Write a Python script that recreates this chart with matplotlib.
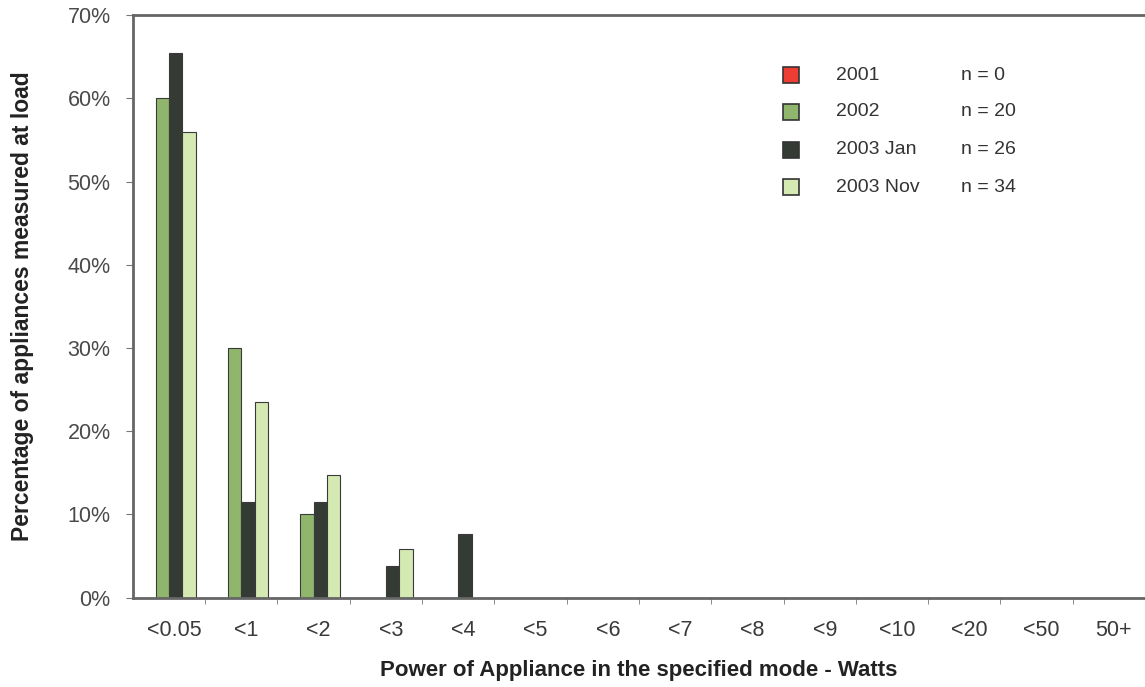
import matplotlib.pyplot as plt
from matplotlib.patches import Rectangle
import numpy as np

plt.rcParams['font.family'] = ['Liberation Sans', 'DejaVu Sans']

categories = ["<0.05", "<1", "<2", "<3", "<4", "<5", "<6", "<7", "<8", "<9",
              "<10", "<20", "<50", "50+"]
series = ["2001", "2002", "2003 Jan", "2003 Nov"]
n_values = ["n = 0", "n = 20", "n = 26", "n = 34"]
colors = ["#ee3d33", "#8fb66c", "#343b34", "#d5e9b2"]

# percentages per category
v2001 = [0] * 14
v2002 = [60, 30, 10, 0, 0, 0, 0, 0, 0, 0, 0, 0, 0, 0]
v2003jan = [65.4, 11.5, 11.5, 3.8, 7.7, 0, 0, 0, 0, 0, 0, 0, 0, 0]
v2003nov = [55.9, 23.5, 14.7, 5.9, 0, 0, 0, 0, 0, 0, 0, 0, 0, 0]
values = [v2001, v2002, v2003jan, v2003nov]

fig = plt.figure(figsize=(11.45, 6.87), dpi=100)
ax = fig.add_axes([0.116, 0.13, 0.884, 0.848])

x = np.arange(len(categories))
w = 0.186
for j, vals in enumerate(values):
    h = np.array(vals, dtype=float)
    mask = h > 0
    ax.bar(x[mask] + (j - 1.5) * w, h[mask], width=w, color=colors[j],
           edgecolor="#3a3a3a", linewidth=0.8, align="center")

ax.set_xlim(-0.5, len(categories) - 0.5)
ax.set_ylim(0, 70)
ax.set_yticks(range(0, 71, 10))
ax.set_yticklabels([f"{t}%" for t in range(0, 71, 10)])
ax.set_xticks(x + 0.07)
ax.set_xticklabels(categories)
ax.set_xticks(np.arange(0.5, len(categories) - 0.5, 1), minor=True)
ax.tick_params(axis="x", which="major", length=0, pad=16, labelsize=15.5, labelcolor="#3a3a3a")
ax.tick_params(axis="x", which="minor", length=4, direction="out", color="#777777")
ax.tick_params(axis="y", length=5, direction="out", color="#777777", pad=11,
               labelsize=15.5, labelcolor="#4a4a4a")

for s in ["left", "bottom", "top"]:
    ax.spines[s].set_color("#666666")
    ax.spines[s].set_linewidth(2)
ax.spines["right"].set_visible(False)

ax.set_ylabel("Percentage of appliances measured at load", fontsize=16.5,
              fontweight="bold", color="#222222", labelpad=14)
ax.yaxis.set_label_coords(-0.098, 0.5)
ax.set_xlabel("Power of Appliance in the specified mode - Watts", fontsize=16,
              fontweight="bold", color="#222222", labelpad=14)

# legend drawn in figure coordinates
ys = [1 - 75 / 687, 1 - 112 / 687, 1 - 150 / 687, 1 - 187 / 687]
for lab, nv, c, yy in zip(series, n_values, colors, ys):
    fig.patches.append(Rectangle((783 / 1145, yy - 8 / 687), 16 / 1145, 16 / 687,
                                 facecolor=c, edgecolor="#333333", linewidth=1.2,
                                 transform=fig.transFigure, figure=fig))
    fig.text(836 / 1145, yy, lab, fontsize=14, color="#333333", va="center")
    fig.text(961 / 1145, yy, nv, fontsize=14, color="#333333", va="center")

fig.savefig("out.png", dpi=100)
